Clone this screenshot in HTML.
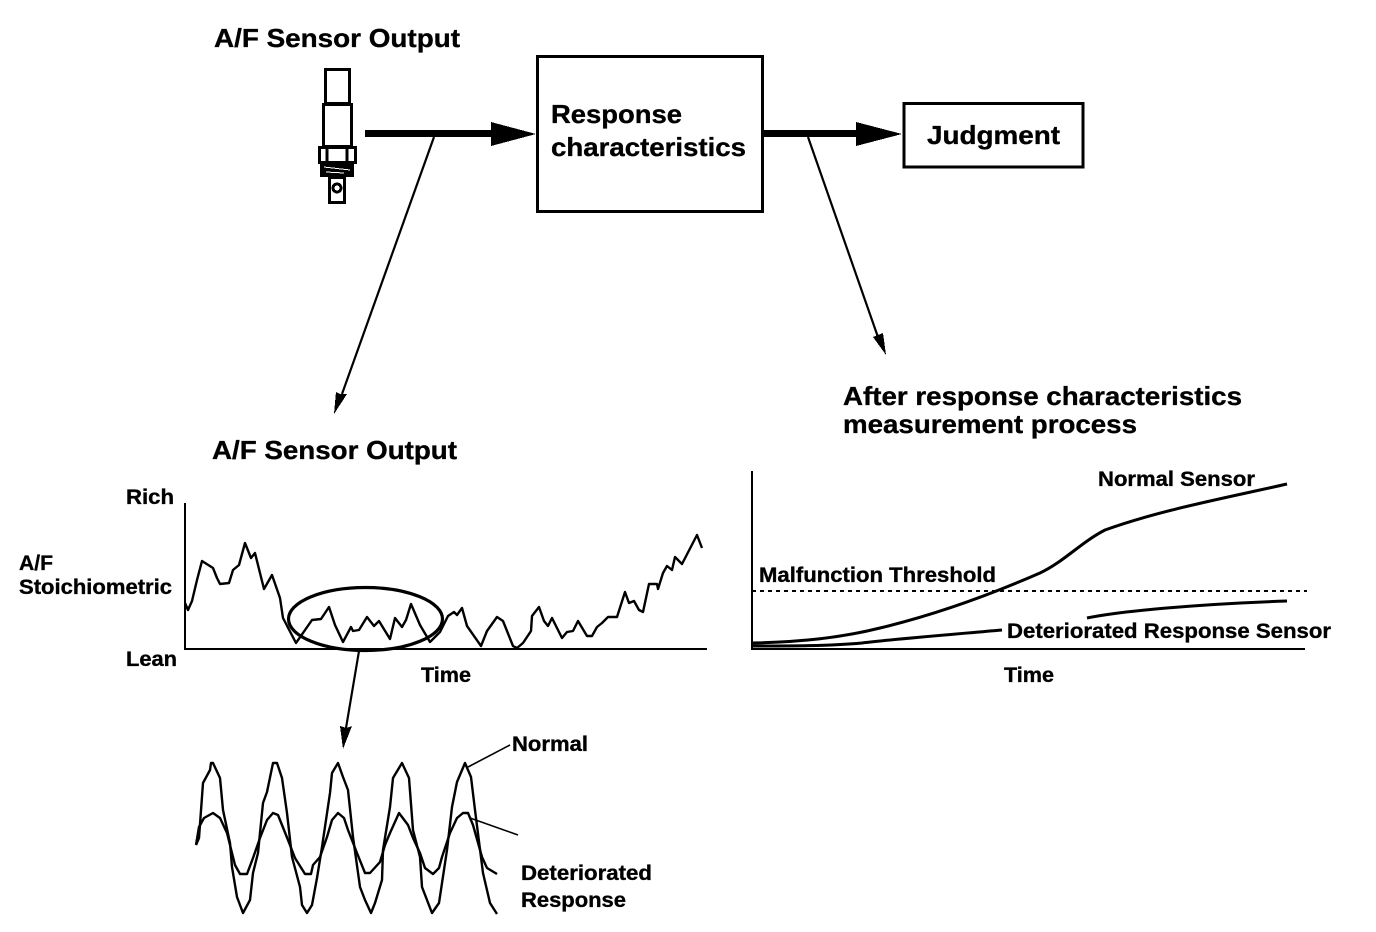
<!DOCTYPE html>
<html lang="en">
<head>
<meta charset="utf-8">
<title>A/F Sensor Response Diagram</title>
<style>
html,body{margin:0;padding:0;background:#fff;}
svg{display:block;}
text{font-family:"Liberation Sans",Arial,sans-serif;font-weight:700;fill:#000;stroke:#000;stroke-width:.35px;}
.g{shape-rendering:crispEdges;fill:none;stroke:#000;}
.s{fill:none;stroke:#000;stroke-linejoin:round;}
.f{shape-rendering:crispEdges;fill:#000;stroke:none;}
.t26{font-size:26px;}
.t21{font-size:21px;}
</style>
</head>
<body>
<svg xmlns="http://www.w3.org/2000/svg" width="1376" height="932" viewBox="0 0 1376 932">
<rect width="1376" height="932" fill="#fff"/>

<!-- Sensor -->
<g class="g" stroke-width="3">
<rect x="325.5" y="69.5" width="24" height="34"/>
<rect x="323.5" y="104.5" width="28" height="42"/>
<rect x="319.5" y="147.5" width="36" height="15"/>
<path d="M327 148V162M347 148V162"/>
<rect x="329.5" y="177.5" width="15" height="25"/>
<circle cx="337" cy="188" r="4"/>
</g>
<rect class="f" x="320" y="163" width="34" height="14"/>
<path d="M324 167L350 170M326 172L344 173" fill="none" class="g" style="stroke:#fff;stroke-width:1"/>

<!-- Blocks -->
<g class="g" stroke-width="3">
<rect x="537.5" y="56.5" width="225" height="155"/>
<rect x="904" y="103.5" width="179" height="63.5"/>
</g>

<!-- Thick arrows -->
<rect class="f" x="365" y="130" width="127" height="7"/>
<polygon class="f" points="491,122 536,134 491,146"/>
<rect class="f" x="763" y="130" width="94" height="7"/>
<polygon class="f" points="856,122 902,134 856,146"/>

<!-- Thin arrows -->
<g class="s" stroke-width="2.2">
<path d="M434 137L342 394"/>
<path d="M808 137L879 340"/>
<path d="M359 651L346 728"/>
</g>
<polygon class="f" points="336,392 340,394 347,394 334,414"/>
<polygon class="f" points="873,337 878,335 883,333 886,355"/>
<polygon class="f" points="340,726 346,728 352,726 343,749"/>

<!-- Left chart -->
<path class="g" stroke-width="2" d="M185 503V649H707"/>
<polyline class="s" stroke-width="2.4" points="185,603 188,610 192,601 197,580 202,561 213,568 217,578 220,584 229,583 233,570 239,565 245,543 251,558 255,553 264,589 272,575 280,598 283,618 296,643 312,620 321,619 329,607 335,625 343,642 351,627 353,631 359,630 367,617 374,626 379,621 390,639 395,618 402,627 406,620 411,604 420,625 430,642 440,632 448,616 454,612 457,615 462,608 467,626 481,646 487,631 497,617 503,621 513,646 517,648 523,643 531,631 532,616 539,607 544,621 548,626 552,618 562,638 567,632 573,631 578,621 587,636 592,636 597,627 602,623 608,617 617,617 625,592 629,603 634,601 639,610 643,612 649,584 657,584 658,589 663,573 667,566 672,570 675,557 682,564 697,535 702,548"/>
<ellipse class="s" stroke-width="3.2" cx="365.5" cy="619" rx="77" ry="31.5"/>

<!-- Waves -->
<g class="s" stroke-width="2.4">
<polyline points="196,845 199,838 203,783 210,770 211,763 213,763 220,778 223,810 230,843 232,867 237,897 243,913 250,900 253,873 258,853 263,803 267,792 273,763 277,763 282,778 287,813 292,857 300,887 302,905 307,913 312,905 317,878 322,847 330,793 332,773 338,763 343,777 348,790 353,837 360,887 365,900 371,913 375,903 382,880 383,850 390,807 393,778 402,763 409,778 413,830 420,857 422,887 432,913 439,903 447,850 452,807 457,782 465,763 471,777 475,810 483,873 490,903 497,914"/>
<polyline points="196,845 199,827 204,818 213,813 220,818 227,833 235,865 240,874 247,874 253,858 260,838 267,820 273,813 278,815 282,825 288,840 295,858 305,874 311,874 313,865 320,857 327,837 332,820 338,813 344,818 348,830 357,853 365,873 370,873 380,862 385,845 390,833 399,813 408,825 413,838 420,853 425,868 433,874 439,868 442,857 450,833 457,818 463,813 468,813 473,825 482,857 487,868 497,874"/>
</g>
<g class="s" stroke-width="1.6">
<path d="M468 767L510 745"/>
<path d="M470 818L518 835"/>
</g>

<!-- Right chart -->
<g class="g" stroke-width="2">
<path d="M752 471V649H1305"/>
<path d="M752 591H1307" stroke-dasharray="4 4"/>
</g>
<g class="s" stroke-width="3">
<path d="M752 643C800 642 840 638 880 628C930 616 985 597 1040 573C1065 561 1080 543 1105 530C1160 510 1230 497 1287 484"/>
<path d="M752 646C790 646 830 646 862 643C895 639 945 635 1002 630"/>
<path d="M1087 618C1120 611 1200 604 1287 601"/>
</g>

<!-- Labels -->
<text class="t26" x="214" y="47" textLength="246" lengthAdjust="spacingAndGlyphs">A/F Sensor Output</text>
<text class="t26" x="212" y="459" textLength="245" lengthAdjust="spacingAndGlyphs">A/F Sensor Output</text>
<text class="t26" x="551" y="123" textLength="131" lengthAdjust="spacingAndGlyphs">Response</text>
<text class="t26" x="551" y="156" textLength="195" lengthAdjust="spacingAndGlyphs">characteristics</text>
<text class="t26" x="927" y="144" textLength="133" lengthAdjust="spacingAndGlyphs">Judgment</text>
<text class="t26" x="843" y="405" textLength="399" lengthAdjust="spacingAndGlyphs">After response characteristics</text>
<text class="t26" x="843" y="433" textLength="294" lengthAdjust="spacingAndGlyphs">measurement process</text>
<text class="t21" x="126" y="504" textLength="48" lengthAdjust="spacingAndGlyphs">Rich</text>
<text class="t21" x="19" y="570" textLength="34" lengthAdjust="spacingAndGlyphs">A/F</text>
<text class="t21" x="19" y="594" textLength="153" lengthAdjust="spacingAndGlyphs">Stoichiometric</text>
<text class="t21" x="126" y="666" textLength="51" lengthAdjust="spacingAndGlyphs">Lean</text>
<text class="t21" x="421" y="682" textLength="50" lengthAdjust="spacingAndGlyphs">Time</text>
<text class="t21" x="1004" y="682" textLength="50" lengthAdjust="spacingAndGlyphs">Time</text>
<text class="t21" x="1098" y="486" textLength="157" lengthAdjust="spacingAndGlyphs">Normal Sensor</text>
<text class="t21" x="759" y="582" textLength="237" lengthAdjust="spacingAndGlyphs">Malfunction Threshold</text>
<text class="t21" x="1007" y="638" textLength="324" lengthAdjust="spacingAndGlyphs">Deteriorated Response Sensor</text>
<text class="t21" x="512" y="751" textLength="76" lengthAdjust="spacingAndGlyphs">Normal</text>
<text class="t21" x="521" y="880" textLength="131" lengthAdjust="spacingAndGlyphs">Deteriorated</text>
<text class="t21" x="521" y="907" textLength="105" lengthAdjust="spacingAndGlyphs">Response</text>
</svg>
</body>
</html>
